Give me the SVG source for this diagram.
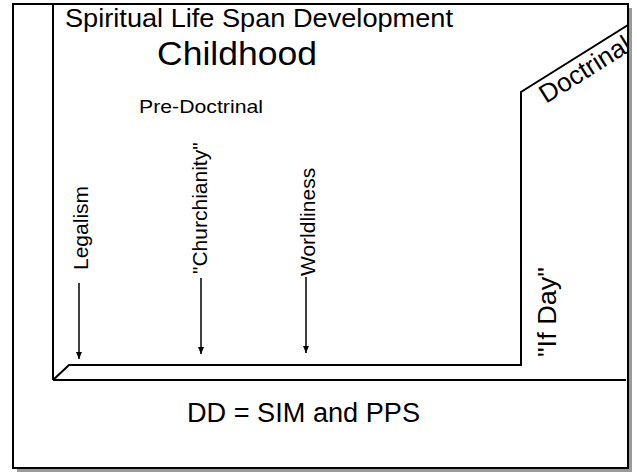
<svg xmlns="http://www.w3.org/2000/svg" width="637" height="474" viewBox="0 0 637 474">
<style>
.t{font-family:"Liberation Sans",Arial,sans-serif;fill:#000}
.ln{stroke:#000;stroke-width:2;fill:none}
.ar{stroke:#000;stroke-width:1.5;fill:none}
</style>
<defs>
<marker id="ah" markerWidth="8" markerHeight="8" refX="7" refY="4" orient="auto" markerUnits="userSpaceOnUse">
<path d="M0,1 L7,4 L0,7 Z" fill="#000"/>
</marker>
<clipPath id="frame"><rect x="14" y="5" width="613" height="462"/></clipPath>
</defs>
<rect width="637" height="474" fill="#fff"/>
<g id="frame-box">
<rect x="17" y="8" width="615" height="464" fill="#9a9a9a"/>
<rect x="13" y="4" width="615" height="464" fill="#fff" stroke="#000" stroke-width="2"/>
</g>
<g id="axes">
<line class="ln" x1="53" y1="4" x2="53" y2="380"/>
<line class="ln" x1="53" y1="380" x2="626" y2="380"/>
<polyline class="ln" points="53,380 69,365 521,365 521,92 628,25" clip-path="url(#frame)"/>
</g>
<g id="title"><text class="t" x="65" y="27" font-size="26" textLength="388" lengthAdjust="spacingAndGlyphs">Spiritual Life Span Development</text></g>
<g id="childhood"><text class="t" x="157" y="65" font-size="33" textLength="160" lengthAdjust="spacingAndGlyphs">Childhood</text></g>
<g id="pre-doctrinal"><text class="t" x="139" y="113" font-size="19" textLength="124" lengthAdjust="spacingAndGlyphs">Pre-Doctrinal</text></g>
<g id="legalism"><text class="t" font-size="21" transform="translate(88,270) rotate(-90)">Legalism</text></g>
<g id="churchianity"><text class="t" font-size="21" transform="translate(207,274) rotate(-90)">"Churchianity"</text></g>
<g id="worldliness"><text class="t" font-size="21" transform="translate(315,276) rotate(-90)">Worldliness</text></g>
<g id="if-day"><text class="t" font-size="26" textLength="90" lengthAdjust="spacingAndGlyphs" transform="translate(556,357) rotate(-90)">"If Day"</text></g>
<g id="doctrinal" clip-path="url(#frame)"><text class="t" font-size="26" transform="translate(546,104) rotate(-32)">Doctrinal</text></g>
<g id="dd"><text class="t" x="187" y="422" font-size="27" textLength="233" lengthAdjust="spacingAndGlyphs">DD = SIM and PPS</text></g>
<g id="connectors">
<line class="ar" x1="79" y1="283" x2="79" y2="359" marker-end="url(#ah)"/>
<line class="ar" x1="201" y1="278" x2="201" y2="354" marker-end="url(#ah)"/>
<line class="ar" x1="306" y1="277" x2="306" y2="353" marker-end="url(#ah)"/>
</g>
</svg>
